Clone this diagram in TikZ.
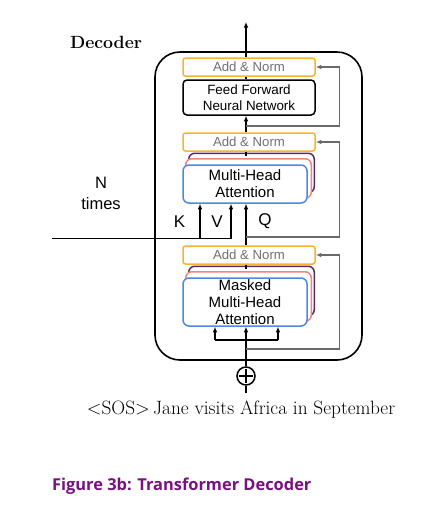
\documentclass[tikz,border=0pt]{standalone}
\usepackage{fontspec}
\setsansfont{Liberation Sans}
\newfontfamily\capfont{Open Sans}
\usetikzlibrary{arrows.meta,calc}
\definecolor{normorange}{HTML}{F5B530}
\definecolor{normgray}{HTML}{707070}
\definecolor{attblue}{HTML}{4F86EC}
\definecolor{attpink}{HTML}{EE8585}
\definecolor{attpurple}{HTML}{5A2A5E}
\definecolor{resgray}{HTML}{6A6A6A}
\definecolor{capurple}{HTML}{7A1180}
\pgfdeclarelayer{back}
\pgfsetlayers{back,main}
\tikzset{
  line/.style={draw=black, line width=1.6pt},
  arr/.style={line, -{Latex[length=5.5pt,width=4.5pt]}},
  garr/.style={draw=resgray, line width=1.3pt, -{Latex[length=5.5pt,width=4.5pt]}},
  addnorm/.style={draw=normorange, line width=1.5pt, rounded corners=2.5pt, fill=white,
    minimum width=132pt, minimum height=18pt, inner sep=0pt, text=normgray,
    font=\sffamily\fontsize{13.2}{14}\selectfont},
  ffbox/.style={draw=black, line width=1.5pt, rounded corners=4pt, fill=white,
    minimum width=132pt, minimum height=35pt, inner sep=0pt, align=center,
    font=\sffamily\fontsize{13.4}{15.5}\selectfont},
  attn/.style={draw=attblue, line width=1.5pt, rounded corners=6pt, fill=white,
    minimum width=124pt, inner sep=0pt, align=center,
    font=\sffamily\fontsize{15}{17}\selectfont},
  backbox/.style={line width=1.5pt, rounded corners=6pt, fill=white},
  lbl/.style={font=\sffamily\fontsize{17}{20}\selectfont, inner sep=0pt},
}
\begin{document}
\begin{tikzpicture}[x=1pt,y=-1pt]
\begin{pgfonlayer}{back}
\fill[white] (0,0) rectangle (447,523);
\end{pgfonlayer}
\useasboundingbox (0,0) rectangle (447,523);

% outer frame
\draw[line, rounded corners=25pt] (155,52) rectangle (362,360);

% nodes
\node[addnorm] (an1) at (249,67) {Add \& Norm};
\node[ffbox] (ff) at (249,97.5) {Feed Forward\\Neural Network};
\node[addnorm] (an2) at (249,142) {Add \& Norm};
\node[attn, minimum height=38pt] (mha) at (245,184) {Multi-Head\\Attention};
\node[addnorm] (an3) at (249,255) {Add \& Norm};
\node[attn, minimum height=48pt] (mmha) at (245,302) {Masked\\Multi-Head\\Attention};
\node[circle, draw, line width=1.5pt, minimum size=18pt, inner sep=0pt] (plus) at (246,376) {};

% stacked heads behind
\begin{pgfonlayer}{back}
\draw[backbox, draw=attpurple] ($(mha.south west)+(6.5,-11)$) rectangle ($(mha.north east)+(6.5,-11)$);
\draw[backbox, draw=attpink] ($(mha.south west)+(3.5,-5.5)$) rectangle ($(mha.north east)+(3.5,-5.5)$);
\draw[backbox, draw=attpurple] ($(mmha.south west)+(6.5,-11)$) rectangle ($(mmha.north east)+(6.5,-11)$);
\draw[backbox, draw=attpink] ($(mmha.south west)+(3.5,-5.5)$) rectangle ($(mmha.north east)+(3.5,-5.5)$);
\end{pgfonlayer}

% coordinates
\coordinate (top) at (246,22);
\coordinate (rx) at (339.5,0);
\coordinate (r1) at (246,126);
\coordinate (r2) at (246,237);
\coordinate (r3) at (246,349);
\coordinate (kin) at (52,238.5);
\coordinate (kx) at (200,238.5);
\coordinate (vx) at (231,238.5);
\coordinate (bl) at (215,340);
\coordinate (brr) at (278,340);
\coordinate (inp) at (246,393);

% main flow
\draw[arr] (an1.north -| top) -- (top);
\draw[line] (ff.north -| top) -- (an1.south -| top);
\draw[arr] (an2.north -| top) -- (ff.south -| top);
\draw[line] (an2.south -| top) -- ++(0,4);
\draw[arr] (an3.north -| top) -- (mha.south -| top);
\draw[line] (an3.south -| top) -- ++(0,4);
\draw[arr] (plus.north) -- (mmha.south -| plus);
\draw[line] (bl) -- (brr);
\draw[arr] (bl) -- (bl |- mmha.south);
\draw[arr] (brr) -- (brr |- mmha.south);
\draw[line] (inp) -- (plus.south);
\draw[line, line width=1.3pt] ($(plus.west)+(3,0)$) -- ($(plus.east)+(-3,0)$);
\draw[line, line width=1.3pt] ($(plus.north)+(0,3)$) -- ($(plus.south)+(0,-3)$);

% K V inputs
\draw[line] (kin) -- (vx);
\draw[arr] (kx) -- (kx |- mha.south);
\draw[arr] (vx) -- (vx |- mha.south);

% residuals
\draw[garr] (r1) -- (r1 -| rx) |- (an1.east);
\draw[garr] (r2) -- (r2 -| rx) |- (an2.east);
\draw[garr] (r3) -- (r3 -| rx) |- (an3.east);

% labels
\node[lbl] (klbl) at (179.5,222) {K};
\node[lbl] (vlbl) at (217,222) {V};
\node[lbl] (qlbl) at (265,221) {Q};
\node[lbl, align=center, font=\sffamily\fontsize{16.5}{21}\selectfont] (ntimes) at (101,193) {N\\times};
\node (dec) at (106,42) {\rmfamily\bfseries\fontsize{17.7}{20}\selectfont Decoder};
\node (sos) at (241,410) {\rmfamily\fontsize{19.3}{22}\selectfont <SOS>\,Jane visits Africa in September};
\node[anchor=west, text=capurple, inner sep=0pt] (cap) at (52,486) {\capfont\bfseries\fontsize{16.4}{19}\selectfont Figure 3b: Transformer Decoder};
\end{tikzpicture}
\end{document}
